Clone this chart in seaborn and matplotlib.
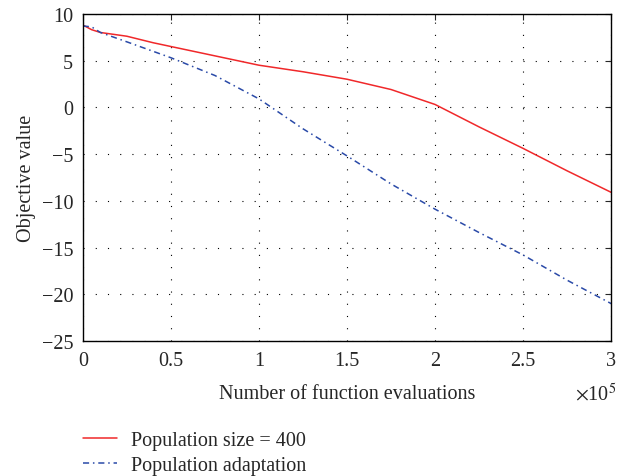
import numpy as np
import pandas as pd
import seaborn as sns
import matplotlib.pyplot as plt
from matplotlib.ticker import FuncFormatter

# Values (x in function evaluations)
red_x = [0, 5e3, 1e4, 2.5e4, 4e4, 5e4, 7.5e4, 1e5, 1.25e5, 1.5e5, 1.75e5, 2e5, 2.25e5, 2.5e5, 2.75e5, 3e5]
red_y = [8.8, 8.3, 8.0, 7.6, 6.9, 6.5, 5.5, 4.5, 3.8, 3.0, 1.9, 0.3, -2.1, -4.4, -6.8, -9.1]
blue_x = [0, 5e3, 1e4, 2.5e4, 5e4, 7.5e4, 1e5, 1.25e5, 1.5e5, 1.75e5, 2e5, 2.25e5, 2.5e5, 2.75e5, 3e5]
blue_y = [8.7, 8.6, 8.0, 7.0, 5.3, 3.4, 0.9, -2.3, -5.2, -8.2, -10.9, -13.4, -15.8, -18.5, -21.0]
x_ticks = [0, 0.5e5, 1e5, 1.5e5, 2e5, 2.5e5, 3e5]
y_ticks = [-25, -20, -15, -10, -5, 0, 5, 10]

sns.set_style("white")
plt.rcParams['font.family'] = ['Liberation Serif', 'DejaVu Serif']
plt.rcParams['mathtext.fontset'] = 'stix'
fs = 14.5
plt.rcParams['font.size'] = fs

fig = plt.figure(figsize=(6.18, 4.77), dpi=100)
ax = fig.add_axes([0.134, 0.283, 0.855, 0.686])

red_df = pd.DataFrame({"x": red_x, "y": red_y})
blue_df = pd.DataFrame({"x": blue_x, "y": blue_y})
sns.lineplot(data=red_df, x="x", y="y", ax=ax, color="#f0282a", lw=1.1,
             label="Population size = 400")
sns.lineplot(data=blue_df, x="x", y="y", ax=ax, color="#2a4aa8", lw=1.1,
             linestyle=(0, (4, 2.5, 1, 2.5)), label="Population adaptation")

ax.set_xlim(0, 3e5)
ax.set_ylim(-25, 10)
ax.set_xticks(x_ticks)
ax.set_yticks(y_ticks)
ax.xaxis.set_major_formatter(FuncFormatter(lambda v, p: f"{v / 1e5:g}"))
ax.grid(True, color="black", linestyle=(0, (1, 10)), linewidth=0.8)
ax.tick_params(direction="in", length=4, top=True, right=True, labelsize=fs, pad=7)
for s in ax.spines.values():
    s.set_linewidth(1)
    s.set_color("black")

ax.set_xlabel("Number of function evaluations", labelpad=10)
ax.set_ylabel("Objective value", labelpad=4)
ax.text(1.01, -0.16, r"$\times$10$^{5}$", transform=ax.transAxes, ha="right", va="center")

ax.get_legend().remove()
h, l = ax.get_legend_handles_labels()
fig.legend(h, l, loc="upper left", bbox_to_anchor=(0.105, 0.132), frameon=False,
           handlelength=1.7, handletextpad=0.7, labelspacing=0.3, fontsize=fs)

fig.savefig("out.png", dpi=100)
